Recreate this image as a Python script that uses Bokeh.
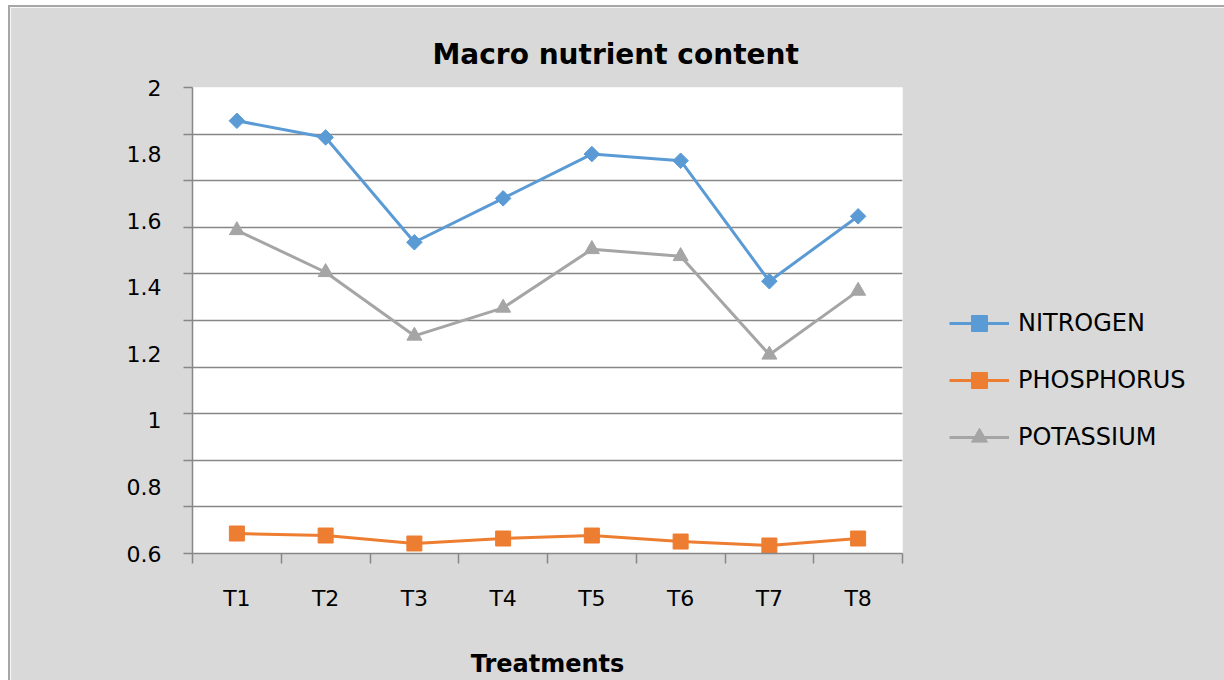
from bokeh.plotting import figure
from bokeh.models import Range1d, FixedTicker, Legend, LegendItem, ColumnDataSource
from bokeh.embed import file_html
from bokeh.resources import INLINE
import math

# ---- data ----
treatments = ["T1", "T2", "T3", "T4", "T5", "T6", "T7", "T8"]
nitrogen = [1.90, 1.85, 1.535, 1.667, 1.80, 1.78, 1.418, 1.613]
phosphorus = [0.660, 0.654, 0.630, 0.645, 0.654, 0.636, 0.624, 0.645]
potassium = [1.571, 1.445, 1.254, 1.338, 1.514, 1.493, 1.197, 1.389]
y_tick_values = [0.6, 0.8, 1.0, 1.2, 1.4, 1.6, 1.8, 2.0]
y_tick_labels = ["0.6", "0.8", "1", "1.2", "1.4", "1.6", "1.8", "2"]
y_grid_values = [0.6, 0.74, 0.88, 1.02, 1.16, 1.30, 1.44, 1.58, 1.72, 1.86, 2.0]

xpos = [i + 0.5 for i in range(len(treatments))]
src = ColumnDataSource(dict(x=xpos, n=nitrogen, p=phosphorus, k=potassium, t=treatments))

GRID = "#878787"
FONT = "DejaVu Sans"

p = figure(frame_width=710, frame_height=466,
           min_border_left=182, min_border_right=318,
           min_border_top=80, min_border_bottom=125,
           x_range=Range1d(0, 8), y_range=Range1d(0.6, 2.0),
           output_backend="svg", toolbar_location=None,
           background_fill_color="white", border_fill_color="#d9d9d9")
p.outline_line_color = None
p.styles = {"border": "2px solid #a6a6a6", "box-sizing": "border-box",
            "margin-left": "8px", "margin-top": "5px"}

# title
p.title.text = "Macro nutrient content"
p.title.text_font = FONT
p.title.text_font_style = "bold"
p.title.text_font_size = "28px"
p.title.text_color = "black"
p.title.align = "left"
p.title.offset = 240
p.title.standoff = 34

# y axis
p.yaxis.ticker = FixedTicker(ticks=y_tick_values, minor_ticks=y_grid_values)
p.yaxis.major_label_overrides = {v: l for v, l in zip(y_tick_values, y_tick_labels)}
p.yaxis.major_tick_line_color = None
p.yaxis.major_tick_out = 0
p.yaxis.major_tick_in = 0
p.yaxis.minor_tick_out = 9
p.yaxis.minor_tick_in = 0
p.yaxis.minor_tick_line_color = GRID
p.yaxis.minor_tick_line_width = 1.5
p.yaxis.axis_line_color = GRID
p.yaxis.axis_line_width = 1.5
p.yaxis.major_label_standoff = 22
p.yaxis.major_label_text_font = FONT
p.yaxis.major_label_text_font_size = "22px"
p.yaxis.major_label_text_color = "black"

p.ygrid.ticker = FixedTicker(ticks=y_grid_values)
p.ygrid.grid_line_color = GRID
p.ygrid.grid_line_width = 1.5
p.xgrid.visible = False

# x axis
p.xaxis.ticker = FixedTicker(ticks=xpos, minor_ticks=list(range(len(treatments) + 1)))
p.xaxis.major_label_overrides = {x: t for x, t in zip(xpos, treatments)}
p.xaxis.major_tick_line_color = None
p.xaxis.major_tick_out = 0
p.xaxis.major_tick_in = 0
p.xaxis.minor_tick_out = 10
p.xaxis.minor_tick_in = 0
p.xaxis.minor_tick_line_color = GRID
p.xaxis.minor_tick_line_width = 1.5
p.xaxis.axis_line_color = GRID
p.xaxis.axis_line_width = 1.5
p.xaxis.major_label_standoff = 22
p.xaxis.major_label_text_font = FONT
p.xaxis.major_label_text_font_size = "22px"
p.xaxis.major_label_text_color = "black"
p.xaxis.axis_label = "Treatments"
p.xaxis.axis_label_text_font = FONT
p.xaxis.axis_label_text_font_style = "bold"
p.xaxis.axis_label_text_font_size = "24px"
p.xaxis.axis_label_text_color = "black"
p.xaxis.axis_label_standoff = 36

# series
BLUE, ORANGE, GRAY = "#5b9bd5", "#ed7d31", "#a5a5a5"
l1 = p.line("x", "n", source=src, line_color=BLUE, line_width=3)
s1 = p.scatter("x", "n", source=src, marker="square", angle=math.pi / 4, size=11,
               fill_color=BLUE, line_color=BLUE)
l2 = p.line("x", "p", source=src, line_color=ORANGE, line_width=3)
s2 = p.scatter("x", "p", source=src, marker="square", size=15,
               fill_color=ORANGE, line_color=ORANGE)
l3 = p.line("x", "k", source=src, line_color=GRAY, line_width=3)
s3 = p.scatter("x", "k", source=src, marker="triangle", size=15,
               fill_color=GRAY, line_color=GRAY)

legend = Legend(items=[LegendItem(label="NITROGEN", renderers=[l1, s1]),
                       LegendItem(label="PHOSPHORUS", renderers=[l2, s2]),
                       LegendItem(label="POTASSIUM", renderers=[l3, s3])],
                location=(47, 96), orientation="vertical",
                glyph_width=60, glyph_height=40, label_height=40, spacing=17,
                label_standoff=9, padding=0, margin=25,
                border_line_color=None, background_fill_alpha=0,
                label_text_font=FONT, label_text_font_size="24px",
                label_text_color="black")
p.add_layout(legend, "right")

open("out.html", "w").write(file_html(p, INLINE))
